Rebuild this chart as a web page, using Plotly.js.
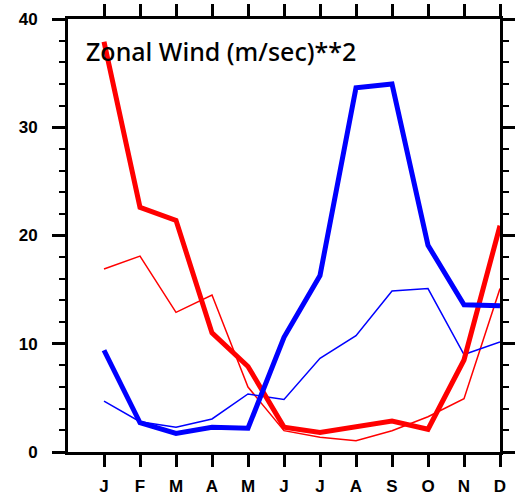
<!DOCTYPE html>
<html>
<head>
<meta charset="utf-8">
<script src="https://cdn.plot.ly/plotly-3.0.1.min.js"></script>
<style>html,body{margin:0;padding:0;background:#fff;}#chart{width:519px;height:497px;}</style>
</head>
<body>
<div id="chart"></div>
<script>
var months = ["J","F","M","A","M","J","J","A","S","O","N","D"];
var monthIndex = [1,2,3,4,5,6,7,8,9,10,11,12];
var redThick  = [37.9, 22.6, 21.4, 11.0, 7.9, 2.3, 1.8, 2.35, 2.85, 2.1, 8.5, 20.9];
var redThin   = [16.9, 18.1, 12.9, 14.5, 6.0, 1.97, 1.36, 1.05, 1.97, 3.26, 4.93, 15.1];
var blueThick = [9.4, 2.7, 1.72, 2.28, 2.19, 10.6, 16.3, 33.65, 34.0, 19.1, 13.6, 13.5];
var blueThin  = [4.7, 2.8, 2.28, 3.05, 5.36, 4.85, 8.66, 10.74, 14.87, 15.1, 9.0, 10.16];
var yTicks = [0, 10, 20, 30, 40];

var traces = [
  {x: monthIndex, y: redThin, mode: 'lines', line: {color: '#ff0000', width: 1.5}},
  {x: monthIndex, y: blueThin, mode: 'lines', line: {color: '#0000ff', width: 1.5}},
  {x: monthIndex, y: redThick, mode: 'lines', line: {color: '#ff0000', width: 5}},
  {x: monthIndex, y: blueThick, mode: 'lines', line: {color: '#0000ff', width: 5}},
  {x: monthIndex, y: blueThin, xaxis: 'x2', yaxis: 'y2', mode: 'lines', line: {color: 'rgba(0,0,0,0)', width: 1}, hoverinfo: 'skip'}
];

var yFont = {family: 'Liberation Sans, Arial, sans-serif', size: 17, color: '#000', weight: 'bold'};
var xFont = {family: 'Liberation Sans, Arial, sans-serif', size: 17, color: '#000', weight: 'bold'};

var layout = {
  width: 519, height: 497,
  margin: {l: 68, r: 19, t: 19, b: 45, pad: 0},
  paper_bgcolor: '#fff', plot_bgcolor: '#fff',
  showlegend: false,
  xaxis: {
    range: [0, 12], tickmode: 'array', tickvals: monthIndex, ticktext: months,
    ticks: 'outside', ticklen: 12, tickwidth: 3, tickcolor: '#000',
    showline: true, linewidth: 3, linecolor: '#000',
    showgrid: false, zeroline: false, tickfont: xFont, ticklabelstandoff: 5
  },
  xaxis2: {
    range: [0, 12], overlaying: 'x', side: 'top', anchor: 'y2',
    tickmode: 'array', tickvals: monthIndex, showticklabels: false,
    ticks: 'outside', ticklen: 12, tickwidth: 3, tickcolor: '#000',
    showline: true, linewidth: 3, linecolor: '#000',
    showgrid: false, zeroline: false
  },
  yaxis: {
    range: [0, 40], tickmode: 'array', tickvals: yTicks, ticktext: yTicks.map(String),
    ticks: 'outside', ticklen: 13, tickwidth: 3, tickcolor: '#000',
    minor: {dtick: 2, tick0: 0, ticks: 'outside', ticklen: 6, tickwidth: 2, tickcolor: '#000', showgrid: false},
    showline: true, linewidth: 3, linecolor: '#000',
    showgrid: false, zeroline: false, tickfont: yFont, ticklabelstandoff: 11
  },
  yaxis2: {
    range: [0, 40], overlaying: 'y', side: 'right', anchor: 'x2',
    tickmode: 'array', tickvals: yTicks, showticklabels: false,
    ticks: 'outside', ticklen: 12, tickwidth: 3, tickcolor: '#000',
    minor: {dtick: 2, tick0: 0, ticks: 'outside', ticklen: 6, tickwidth: 2, tickcolor: '#000', showgrid: false},
    showline: true, linewidth: 3, linecolor: '#000',
    showgrid: false, zeroline: false
  },
  annotations: [{
    text: 'Zonal Wind (m/sec)**2', xref: 'paper', yref: 'paper',
    x: 0.037, y: 0.925, xanchor: 'left', yanchor: 'middle', showarrow: false,
    font: {family: 'Noto Sans, Open Sans, sans-serif', size: 25, color: '#000', weight: 500}
  }]
};

Plotly.newPlot('chart', traces, layout, {displayModeBar: false, staticPlot: true});
</script>
</body>
</html>
